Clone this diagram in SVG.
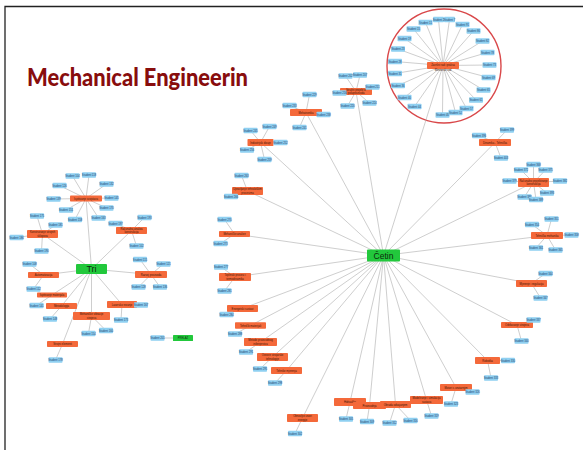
<svg xmlns="http://www.w3.org/2000/svg" width="583" height="450" viewBox="0 0 583 450">
<style>
  .frame{fill:none;stroke:#222;stroke-width:1.3}
  text{font-family:"Liberation Sans",Arial,sans-serif;text-anchor:middle}
  .title{font-family:Lato,"Liberation Sans",sans-serif;font-weight:900;font-size:25px;fill:#880d0d;text-anchor:start}
  .e{fill:none;stroke:#acacac;stroke-width:0.6}
  .ring{fill:none;stroke:#d9484a;stroke-width:1.4}
  .s{fill:#8fd0f1}
  .c{fill:#f4693a}
  .g{fill:#22c83c}
  .st{font-size:2.7px;fill:#1c3d6e}
  .ct{font-size:2.7px;fill:#3b1405}
  .gt{font-size:9px;fill:#0d2a0d}
</style>
<defs>
  <rect id="sb" class="s" x="-7" y="-2.75" width="14" height="5.5" rx="0.8"/>
</defs>
<rect width="583" height="450" fill="#fff"/>
<path class="frame" d="M5,450 V6.5 H583"/>
<text class="title" x="27" y="85.5" textLength="221" lengthAdjust="spacingAndGlyphs">Mechanical Engineerin</text>

<!-- connectors -->
<g id="connectors">
  <circle class="ring" cx="444" cy="66" r="57"/>
  <!-- Tri spokes -->
  <path class="e" d="M91.5 269L86 198.5M91.5 269L42.5 234M91.5 269L131.5 230.5M91.5 269L43.5 275M91.5 269L151 274.5M91.5 269L52 295M91.5 269L61.5 306M91.5 269L91.5 316M91.5 269L122 304.5M91.5 269L62.5 344"/>
  <!-- Tri leaves -->
  <path class="e" d="M86 198.5L72.5 176M86 198.5L89 175M86 198.5L59.5 185.5M86 198.5L106.5 184M86 198.5L53.5 199M86 198.5L111.5 198M86 198.5L66 210M86 198.5L75 219.5M86 198.5L98.5 218M86 198.5L106.5 208
  M42.5 234L37 216M42.5 234L55.5 225M42.5 234L16.5 237.5M42.5 234L41.5 251
  M131.5 230.5L144.5 217.5M131.5 230.5L115.5 223.5M131.5 230.5L136.5 246
  M43.5 275L29.5 264M43.5 275L33.5 289
  M151 274.5L140 259.5M151 274.5L163.5 264M151 274.5L138.5 287M151 274.5L160 287
  M52 295L36.5 305.5M61.5 306L50 319M91.5 316L88.5 333.5M91.5 316L106 330.5
  M122 304.5L141 305M122 304.5L121 320M62.5 344L55.5 360"/>
  <path class="e" d="M157.5 338L183 338"/>
  <!-- Četin spokes -->
  <path class="e" d="M383.5 255.5L443 65.5M383.5 255.5L356 91.5M383.5 255.5L306 112.5M383.5 255.5L260.5 142.5M383.5 255.5L247.5 191M383.5 255.5L234.5 234M383.5 255.5L235 277M383.5 255.5L242.5 308.5M383.5 255.5L250.5 325.5M383.5 255.5L260.5 342M383.5 255.5L272.5 357M383.5 255.5L286.5 370.5M383.5 255.5L302.5 418M383.5 255.5L350 402M383.5 255.5L369.5 405.5M383.5 255.5L395.5 404.5M383.5 255.5L426.5 400M383.5 255.5L456 387.5M383.5 255.5L487.5 360.5M383.5 255.5L517 325M383.5 255.5L531.5 283.5M383.5 255.5L547 235.5M383.5 255.5L533.5 182.5M383.5 255.5L495 142.5"/>
  <!-- Četin leaves -->
  <path class="e" d="M356 91.5L345.5 76M356 91.5L360 75M356 91.5L372.5 87M356 91.5L339.5 93M356 91.5L347.5 106M356 91.5L369.5 103
  M306 112.5L309.5 94.5M306 112.5L289.5 105.5M306 112.5L323.5 114.5M306 112.5L299.5 127.5
  M260.5 142.5L250.5 130.5M260.5 142.5L269.5 126.5M260.5 142.5L280.5 142.5M260.5 142.5L247 150M260.5 142.5L264.5 159.5
  M247.5 191L241.5 175.5M247.5 191L231 196.5M234.5 234L224.5 219.5M234.5 234L220.5 243.5
  M235 277L221 267M235 277L224.5 291M242.5 308.5L226.5 314.5M250.5 325.5L235 334M260.5 342L246 352
  M272.5 357L260 369M286.5 370.5L275 383M302.5 418L295 433.5M350 402L346 419M369.5 405.5L367 421.5
  M395.5 404.5L389.5 423M395.5 404.5L410.5 420.5M426.5 400L431.5 416
  M456 387.5L451 404M456 387.5L472.5 392M487.5 360.5L508 360.5M487.5 360.5L491 378
  M517 325L533.5 320M517 325L521.5 341M531.5 283.5L545.5 273.5M531.5 283.5L540.5 298
  M547 235.5L551.5 219M547 235.5L532 224.5M547 235.5L571.5 235M547 235.5L536 248M547 235.5L555.5 250
  M533.5 182.5L533.5 164.5M533.5 182.5L521 170M533.5 182.5L545.5 170M533.5 182.5L509.5 181M533.5 182.5L560 181M533.5 182.5L524.5 197M533.5 182.5L536 199.5M533.5 182.5L547 193
  M495 142.5L479 135.5M495 142.5L507 130M495 142.5L501 158"/>
  <!-- ring hub leaves -->
  <path class="e" d="M443 65.5L438.5 19.5M443 65.5L449.5 19.5M443 65.5L425.5 22.5M443 65.5L413.5 29M443 65.5L404.5 38.5M443 65.5L398 49M443 65.5L395 61.5M443 65.5L395 73.5M443 65.5L398 85.5M443 65.5L404.5 97.5M443 65.5L414.5 106.5M443 65.5L442.5 115M443 65.5L455.5 112.5M443 65.5L466.5 108.5M443 65.5L476 100M443 65.5L483.5 90M443 65.5L488.5 77.5M443 65.5L489.5 65M443 65.5L487.5 52.5M443 65.5L482.5 41M443 65.5L473.5 31M443 65.5L462.5 24.5"/>
</g>

<!-- Tri cluster -->
<g id="tri" transform="translate(91.5,269)"><rect class="g" x="-15.5" y="-5" width="31" height="10" rx="1"/><text class="gt" y="3.2">Tri</text></g>
<g id="t-a" transform="translate(86,198.5)"><rect class="c" x="-16" y="-3" width="32" height="6" rx="0.8"/><text class="ct" y="1">Ispitivanje svojstava</text></g>
<g id="t-b" transform="translate(42.5,234)"><rect class="c" x="-15.5" y="-4" width="31" height="8" rx="0.8"/><text class="ct" y="-0.6">Konstruiranje strojnih</text><text class="ct" y="2.8">sklopova</text></g>
<g id="t-c" transform="translate(131.5,230.5)"><rect class="c" x="-15.5" y="-3.5" width="31" height="7" rx="0.8"/><text class="ct" y="-0.6">Računalna analiza</text><text class="ct" y="2.6">konstrukcija</text></g>
<g id="t-d" transform="translate(43.5,275)"><rect class="c" x="-15.5" y="-3" width="31" height="6" rx="0.8"/><text class="ct" y="1">Automatizacija</text></g>
<g id="t-e" transform="translate(151,274.5)"><rect class="c" x="-16" y="-3.5" width="32" height="7" rx="0.8"/><text class="ct" y="1">Razvoj proizvoda</text></g>
<g id="t-f" transform="translate(52,295)"><rect class="c" x="-15" y="-2.5" width="30" height="5" rx="0.8"/><text class="ct" y="1">Ispitivanje materijala</text></g>
<g id="t-g" transform="translate(61.5,306)"><rect class="c" x="-15.5" y="-3" width="31" height="6" rx="0.8"/><text class="ct" y="1">Metodologija</text></g>
<g id="t-h" transform="translate(91.5,316)"><rect class="c" x="-18.5" y="-4" width="37" height="8" rx="0.8"/><text class="ct" y="-0.6">Mehaničke vibracije</text><text class="ct" y="2.8">strojeva</text></g>
<g id="t-i" transform="translate(122,304.5)"><rect class="c" x="-15" y="-3.5" width="30" height="7" rx="0.8"/><text class="ct" y="1">Lasersko rezanje</text></g>
<g id="t-j" transform="translate(62.5,344)"><rect class="c" x="-15.5" y="-3" width="31" height="6" rx="0.8"/><text class="ct" y="1">Strojni elementi</text></g>

<g id="t-a1" transform="translate(72.5,176)"><use href="#sb"/><text class="st" y="1">Student 104</text></g>
<g id="t-a2" transform="translate(89,175)"><use href="#sb"/><text class="st" y="1">Student 118</text></g>
<g id="t-a3" transform="translate(59.5,185.5)"><use href="#sb"/><text class="st" y="1">Student 126</text></g>
<g id="t-a4" transform="translate(106.5,184)"><use href="#sb"/><text class="st" y="1">Student 132</text></g>
<g id="t-a5" transform="translate(53.5,199)"><use href="#sb"/><text class="st" y="1">Student 139</text></g>
<g id="t-a6" transform="translate(111.5,198)"><use href="#sb"/><text class="st" y="1">Student 145</text></g>
<g id="t-a7" transform="translate(66,210)"><use href="#sb"/><text class="st" y="1">Student 151</text></g>
<g id="t-a8" transform="translate(75,219.5)"><use href="#sb"/><text class="st" y="1">Student 158</text></g>
<g id="t-a9" transform="translate(98.5,218)"><use href="#sb"/><text class="st" y="1">Student 163</text></g>
<g id="t-a10" transform="translate(106.5,208)"><use href="#sb"/><text class="st" y="1">Student 170</text></g>
<g id="t-b1" transform="translate(37,216)"><use href="#sb"/><text class="st" y="1">Student 175</text></g>
<g id="t-b2" transform="translate(55.5,225)"><use href="#sb"/><text class="st" y="1">Student 181</text></g>
<g id="t-b3" transform="translate(16.5,237.5)"><use href="#sb"/><text class="st" y="1">Student 186</text></g>
<g id="t-b4" transform="translate(41.5,251)"><use href="#sb"/><text class="st" y="1">Student 190</text></g>
<g id="t-c1" transform="translate(144.5,217.5)"><use href="#sb"/><text class="st" y="1">Student 193</text></g>
<g id="t-c2" transform="translate(115.5,223.5)"><use href="#sb"/><text class="st" y="1">Student 197</text></g>
<g id="t-c3" transform="translate(136.5,246)"><use href="#sb"/><text class="st" y="1">Student 102</text></g>
<g id="t-d1" transform="translate(29.5,264)"><use href="#sb"/><text class="st" y="1">Student 108</text></g>
<g id="t-d2" transform="translate(33.5,289)"><use href="#sb"/><text class="st" y="1">Student 112</text></g>
<g id="t-e1" transform="translate(140,259.5)"><use href="#sb"/><text class="st" y="1">Student 115</text></g>
<g id="t-e2" transform="translate(163.5,264)"><use href="#sb"/><text class="st" y="1">Student 121</text></g>
<g id="t-e3" transform="translate(138.5,287)"><use href="#sb"/><text class="st" y="1">Student 128</text></g>
<g id="t-e4" transform="translate(160,287)"><use href="#sb"/><text class="st" y="1">Student 136</text></g>
<g id="t-f1" transform="translate(36.5,305.5)"><use href="#sb"/><text class="st" y="1">Student 141</text></g>
<g id="t-g1" transform="translate(50,319)"><use href="#sb"/><text class="st" y="1">Student 148</text></g>
<g id="t-h1" transform="translate(88.5,333.5)"><use href="#sb"/><text class="st" y="1">Student 154</text></g>
<g id="t-h2" transform="translate(106,330.5)"><use href="#sb"/><text class="st" y="1">Student 160</text></g>
<g id="t-i1" transform="translate(141,305)"><use href="#sb"/><text class="st" y="1">Student 167</text></g>
<g id="t-i2" transform="translate(121,320)"><use href="#sb"/><text class="st" y="1">Student 173</text></g>
<g id="t-j1" transform="translate(55.5,360)"><use href="#sb"/><text class="st" y="1">Student 178</text></g>

<!-- lone pair -->
<g id="p-s" transform="translate(157.5,338)"><use href="#sb"/><text class="st" y="1">Student 201</text></g>
<g id="p-g" transform="translate(183,338)"><rect class="g" x="-10" y="-3" width="20" height="6" rx="0.6"/><text class="ct" y="1" style="fill:#0d2a0d">PRELAZ</text></g>

<!-- Četin cluster -->
<g id="cetin" transform="translate(383.5,255.5)"><rect class="g" x="-16.5" y="-6" width="33" height="12" rx="1"/><text class="gt" y="3" style="font-size:8.5px">Četin</text></g>
<g id="c-k" transform="translate(356,91.5)"><rect class="c" x="-16" y="-3.5" width="32" height="7" rx="0.8"/><text class="ct" y="-0.6">Stručni projekt iz</text><text class="ct" y="2.6">poluproizvoda</text></g>
<g id="c-l" transform="translate(306,112.5)"><rect class="c" x="-16" y="-3.5" width="32" height="7" rx="0.8"/><text class="ct" y="1">Mehatronika</text></g>
<g id="c-m" transform="translate(260.5,142.5)"><rect class="c" x="-13" y="-3.5" width="26" height="7" rx="0.8"/><text class="ct" y="1">Industrijski dizajn</text></g>
<g id="c-n" transform="translate(247.5,191)"><rect class="c" x="-15.5" y="-4" width="31" height="8" rx="0.8"/><text class="ct" y="-0.6">Upravljanje tehnološkim</text><text class="ct" y="2.8">procesima</text></g>
<g id="c-o" transform="translate(234.5,234)"><rect class="c" x="-15.5" y="-3" width="31" height="6" rx="0.8"/><text class="ct" y="1">Mehaničke analize</text></g>
<g id="c-p" transform="translate(235,277)"><rect class="c" x="-16" y="-4" width="32" height="8" rx="0.8"/><text class="ct" y="-0.6">Toplinski procesi i</text><text class="ct" y="2.8">termodinamika</text></g>
<g id="c-q" transform="translate(242.5,308.5)"><rect class="c" x="-15.5" y="-3.5" width="31" height="7" rx="0.8"/><text class="ct" y="1">Energetski sustavi</text></g>
<g id="c-r" transform="translate(250.5,325.5)"><rect class="c" x="-15.5" y="-3.25" width="31" height="6.5" rx="0.8"/><text class="ct" y="1">Tehnički materijali</text></g>
<g id="c-s" transform="translate(260.5,342)"><rect class="c" x="-16.5" y="-4" width="33" height="8" rx="0.8"/><text class="ct" y="-0.6">Metode proizvodnog</text><text class="ct" y="2.8">inženjerstva</text></g>
<g id="c-t" transform="translate(272.5,357)"><rect class="c" x="-15.5" y="-4" width="31" height="8" rx="0.8"/><text class="ct" y="-0.6">Osnove strojarske</text><text class="ct" y="2.8">tehnologije</text></g>
<g id="c-u" transform="translate(286.5,370.5)"><rect class="c" x="-15.5" y="-3.5" width="31" height="7" rx="0.8"/><text class="ct" y="1">Tehnike mjerenja</text></g>
<g id="c-v" transform="translate(302.5,418)"><rect class="c" x="-15.5" y="-4" width="31" height="8" rx="0.8"/><text class="ct" y="-0.6">Obnovljivi izvori</text><text class="ct" y="2.8">energije</text></g>
<g id="c-w" transform="translate(350,402)"><rect class="c" x="-16" y="-4" width="32" height="8" rx="0.8"/><text class="ct" y="1">Hidraulika</text></g>
<g id="c-x1" transform="translate(369.5,405.5)"><rect class="c" x="-16.5" y="-3.5" width="33" height="7" rx="0.8"/><text class="ct" y="1">Proizvodnja</text></g>
<g id="c-x2" transform="translate(395.5,404.5)"><rect class="c" x="-15.5" y="-3.5" width="31" height="7" rx="0.8"/><text class="ct" y="1">Obrada odvajanjem</text></g>
<g id="c-x3" transform="translate(426.5,400)"><rect class="c" x="-16.5" y="-4" width="33" height="8" rx="0.8"/><text class="ct" y="-0.6">Modeliranje i simulacija</text><text class="ct" y="2.8">sustava</text></g>
<g id="c-y" transform="translate(456,387.5)"><rect class="c" x="-16" y="-3.5" width="32" height="7" rx="0.8"/><text class="ct" y="1">Motori s unutarnjim</text></g>
<g id="c-z" transform="translate(487.5,360.5)"><rect class="c" x="-12.5" y="-3.5" width="25" height="7" rx="0.8"/><text class="ct" y="1">Robotika</text></g>
<g id="c-aa" transform="translate(517,325)"><rect class="c" x="-16" y="-3" width="32" height="6" rx="0.8"/><text class="ct" y="1">Održavanje strojeva</text></g>
<g id="c-ab" transform="translate(531.5,283.5)"><rect class="c" x="-15.5" y="-3.5" width="31" height="7" rx="0.8"/><text class="ct" y="1">Mjerenje i regulacija</text></g>
<g id="c-ac" transform="translate(547,235.5)"><rect class="c" x="-16" y="-3.5" width="32" height="7" rx="0.8"/><text class="ct" y="1">Tehnička mehanika</text></g>
<g id="c-ad" transform="translate(533.5,182.5)"><rect class="c" x="-15.5" y="-4.5" width="31" height="9" rx="0.8"/><text class="ct" y="-0.6">Računalno projektiranje</text><text class="ct" y="2.8">konstrukcija</text></g>
<g id="c-ae" transform="translate(495,142.5)"><rect class="c" x="-16" y="-3.5" width="32" height="7" rx="0.8"/><text class="ct" y="1">Dinamika - Tehnička</text></g>

<g id="c-k1" transform="translate(345.5,76)"><use href="#sb"/><text class="st" y="1">Student 202</text></g>
<g id="c-k2" transform="translate(360,75)"><use href="#sb"/><text class="st" y="1">Student 207</text></g>
<g id="c-k3" transform="translate(372.5,87)"><use href="#sb"/><text class="st" y="1">Student 211</text></g>
<g id="c-k4" transform="translate(339.5,93)"><use href="#sb"/><text class="st" y="1">Student 216</text></g>
<g id="c-k5" transform="translate(347.5,106)"><use href="#sb"/><text class="st" y="1">Student 220</text></g>
<g id="c-k6" transform="translate(369.5,103)"><use href="#sb"/><text class="st" y="1">Student 224</text></g>
<g id="c-l1" transform="translate(309.5,94.5)"><use href="#sb"/><text class="st" y="1">Student 229</text></g>
<g id="c-l2" transform="translate(289.5,105.5)"><use href="#sb"/><text class="st" y="1">Student 233</text></g>
<g id="c-l3" transform="translate(323.5,114.5)"><use href="#sb"/><text class="st" y="1">Student 238</text></g>
<g id="c-l4" transform="translate(299.5,127.5)"><use href="#sb"/><text class="st" y="1">Student 241</text></g>
<g id="c-m1" transform="translate(250.5,130.5)"><use href="#sb"/><text class="st" y="1">Student 245</text></g>
<g id="c-m2" transform="translate(269.5,126.5)"><use href="#sb"/><text class="st" y="1">Student 249</text></g>
<g id="c-m3" transform="translate(280.5,142.5)"><use href="#sb"/><text class="st" y="1">Student 252</text></g>
<g id="c-m4" transform="translate(247,150)"><use href="#sb"/><text class="st" y="1">Student 256</text></g>
<g id="c-m5" transform="translate(264.5,159.5)"><use href="#sb"/><text class="st" y="1">Student 259</text></g>
<g id="c-n1" transform="translate(241.5,175.5)"><use href="#sb"/><text class="st" y="1">Student 263</text></g>
<g id="c-n2" transform="translate(231,196.5)"><use href="#sb"/><text class="st" y="1">Student 266</text></g>
<g id="c-o1" transform="translate(224.5,219.5)"><use href="#sb"/><text class="st" y="1">Student 270</text></g>
<g id="c-o2" transform="translate(220.5,243.5)"><use href="#sb"/><text class="st" y="1">Student 273</text></g>
<g id="c-p1" transform="translate(221,267)"><use href="#sb"/><text class="st" y="1">Student 277</text></g>
<g id="c-p2" transform="translate(224.5,291)"><use href="#sb"/><text class="st" y="1">Student 281</text></g>
<g id="c-q1" transform="translate(226.5,314.5)"><use href="#sb"/><text class="st" y="1">Student 284</text></g>
<g id="c-r1" transform="translate(235,334)"><use href="#sb"/><text class="st" y="1">Student 288</text></g>
<g id="c-s1" transform="translate(246,352)"><use href="#sb"/><text class="st" y="1">Student 291</text></g>
<g id="c-t1" transform="translate(260,369)"><use href="#sb"/><text class="st" y="1">Student 295</text></g>
<g id="c-u1" transform="translate(275,383)"><use href="#sb"/><text class="st" y="1">Student 298</text></g>
<g id="c-v1" transform="translate(295,433.5)"><use href="#sb"/><text class="st" y="1">Student 302</text></g>
<g id="c-w1" transform="translate(346,419)"><use href="#sb"/><text class="st" y="1">Student 305</text></g>
<g id="c-x11" transform="translate(367,421.5)"><use href="#sb"/><text class="st" y="1">Student 309</text></g>
<g id="c-x21" transform="translate(389.5,423)"><use href="#sb"/><text class="st" y="1">Student 312</text></g>
<g id="c-x22" transform="translate(410.5,420.5)"><use href="#sb"/><text class="st" y="1">Student 316</text></g>
<g id="c-x31" transform="translate(431.5,416)"><use href="#sb"/><text class="st" y="1">Student 319</text></g>
<g id="c-y1" transform="translate(451,404)"><use href="#sb"/><text class="st" y="1">Student 323</text></g>
<g id="c-y2" transform="translate(472.5,392)"><use href="#sb"/><text class="st" y="1">Student 326</text></g>
<g id="c-z1" transform="translate(508,360.5)"><use href="#sb"/><text class="st" y="1">Student 330</text></g>
<g id="c-z2" transform="translate(491,378)"><use href="#sb"/><text class="st" y="1">Student 333</text></g>
<g id="c-aa1" transform="translate(533.5,320)"><use href="#sb"/><text class="st" y="1">Student 337</text></g>
<g id="c-aa2" transform="translate(521.5,341)"><use href="#sb"/><text class="st" y="1">Student 340</text></g>
<g id="c-ab1" transform="translate(545.5,273.5)"><use href="#sb"/><text class="st" y="1">Student 344</text></g>
<g id="c-ab2" transform="translate(540.5,298)"><use href="#sb"/><text class="st" y="1">Student 347</text></g>
<g id="c-ac1" transform="translate(551.5,219)"><use href="#sb"/><text class="st" y="1">Student 351</text></g>
<g id="c-ac2" transform="translate(532,224.5)"><use href="#sb"/><text class="st" y="1">Student 354</text></g>
<g id="c-ac3" transform="translate(571.5,235)"><use href="#sb"/><text class="st" y="1">Student 358</text></g>
<g id="c-ac4" transform="translate(536,248)"><use href="#sb"/><text class="st" y="1">Student 361</text></g>
<g id="c-ac5" transform="translate(555.5,250)"><use href="#sb"/><text class="st" y="1">Student 365</text></g>
<g id="c-ad1" transform="translate(533.5,164.5)"><use href="#sb"/><text class="st" y="1">Student 368</text></g>
<g id="c-ad2" transform="translate(521,170)"><use href="#sb"/><text class="st" y="1">Student 372</text></g>
<g id="c-ad3" transform="translate(545.5,170)"><use href="#sb"/><text class="st" y="1">Student 375</text></g>
<g id="c-ad4" transform="translate(509.5,181)"><use href="#sb"/><text class="st" y="1">Student 379</text></g>
<g id="c-ad5" transform="translate(560,181)"><use href="#sb"/><text class="st" y="1">Student 382</text></g>
<g id="c-ad6" transform="translate(524.5,197)"><use href="#sb"/><text class="st" y="1">Student 386</text></g>
<g id="c-ad7" transform="translate(536,199.5)"><use href="#sb"/><text class="st" y="1">Student 389</text></g>
<g id="c-ad8" transform="translate(547,193)"><use href="#sb"/><text class="st" y="1">Student 393</text></g>
<g id="c-ae1" transform="translate(479,135.5)"><use href="#sb"/><text class="st" y="1">Student 396</text></g>
<g id="c-ae2" transform="translate(507,130)"><use href="#sb"/><text class="st" y="1">Student 399</text></g>
<g id="c-ae3" transform="translate(501,158)"><use href="#sb"/><text class="st" y="1">Student 403</text></g>

<!-- ring cluster -->
<g id="r-hub" transform="translate(443,65.5)"><rect class="c" x="-16" y="-3.5" width="32" height="7" rx="0.8"/><text class="ct" y="0.2">Završni rad i praksa</text><text class="ct" y="5.4">Mentorski rad</text></g>
<g id="r-1" transform="translate(438.5,19.5)"><rect class="s" x="-5.5" y="-2.75" width="11" height="5.5" rx="0.8"/><text class="st" y="1">Student 2</text></g>
<g id="r-2" transform="translate(449.5,19.5)"><rect class="s" x="-5.5" y="-2.75" width="11" height="5.5" rx="0.8"/><text class="st" y="1">Student 7</text></g>
<g id="r-3" transform="translate(425.5,22.5)"><use href="#sb"/><text class="st" y="1">Student 11</text></g>
<g id="r-4" transform="translate(413.5,29)"><use href="#sb"/><text class="st" y="1">Student 15</text></g>
<g id="r-5" transform="translate(404.5,38.5)"><use href="#sb"/><text class="st" y="1">Student 19</text></g>
<g id="r-6" transform="translate(398,49)"><use href="#sb"/><text class="st" y="1">Student 23</text></g>
<g id="r-7" transform="translate(395,61.5)"><use href="#sb"/><text class="st" y="1">Student 28</text></g>
<g id="r-8" transform="translate(395,73.5)"><use href="#sb"/><text class="st" y="1">Student 31</text></g>
<g id="r-9" transform="translate(398,85.5)"><use href="#sb"/><text class="st" y="1">Student 36</text></g>
<g id="r-10" transform="translate(404.5,97.5)"><use href="#sb"/><text class="st" y="1">Student 40</text></g>
<g id="r-11" transform="translate(414.5,106.5)"><use href="#sb"/><text class="st" y="1">Student 44</text></g>
<g id="r-12" transform="translate(442.5,115)"><use href="#sb"/><text class="st" y="1">Student 48</text></g>
<g id="r-13" transform="translate(455.5,112.5)"><use href="#sb"/><text class="st" y="1">Student 52</text></g>
<g id="r-14" transform="translate(466.5,108.5)"><use href="#sb"/><text class="st" y="1">Student 57</text></g>
<g id="r-15" transform="translate(476,100)"><use href="#sb"/><text class="st" y="1">Student 61</text></g>
<g id="r-16" transform="translate(483.5,90)"><use href="#sb"/><text class="st" y="1">Student 65</text></g>
<g id="r-17" transform="translate(488.5,77.5)"><use href="#sb"/><text class="st" y="1">Student 69</text></g>
<g id="r-18" transform="translate(489.5,65)"><use href="#sb"/><text class="st" y="1">Student 73</text></g>
<g id="r-19" transform="translate(487.5,52.5)"><use href="#sb"/><text class="st" y="1">Student 78</text></g>
<g id="r-20" transform="translate(482.5,41)"><use href="#sb"/><text class="st" y="1">Student 82</text></g>
<g id="r-21" transform="translate(473.5,31)"><use href="#sb"/><text class="st" y="1">Student 86</text></g>
<g id="r-22" transform="translate(462.5,24.5)"><use href="#sb"/><text class="st" y="1">Student 91</text></g>
</svg>
